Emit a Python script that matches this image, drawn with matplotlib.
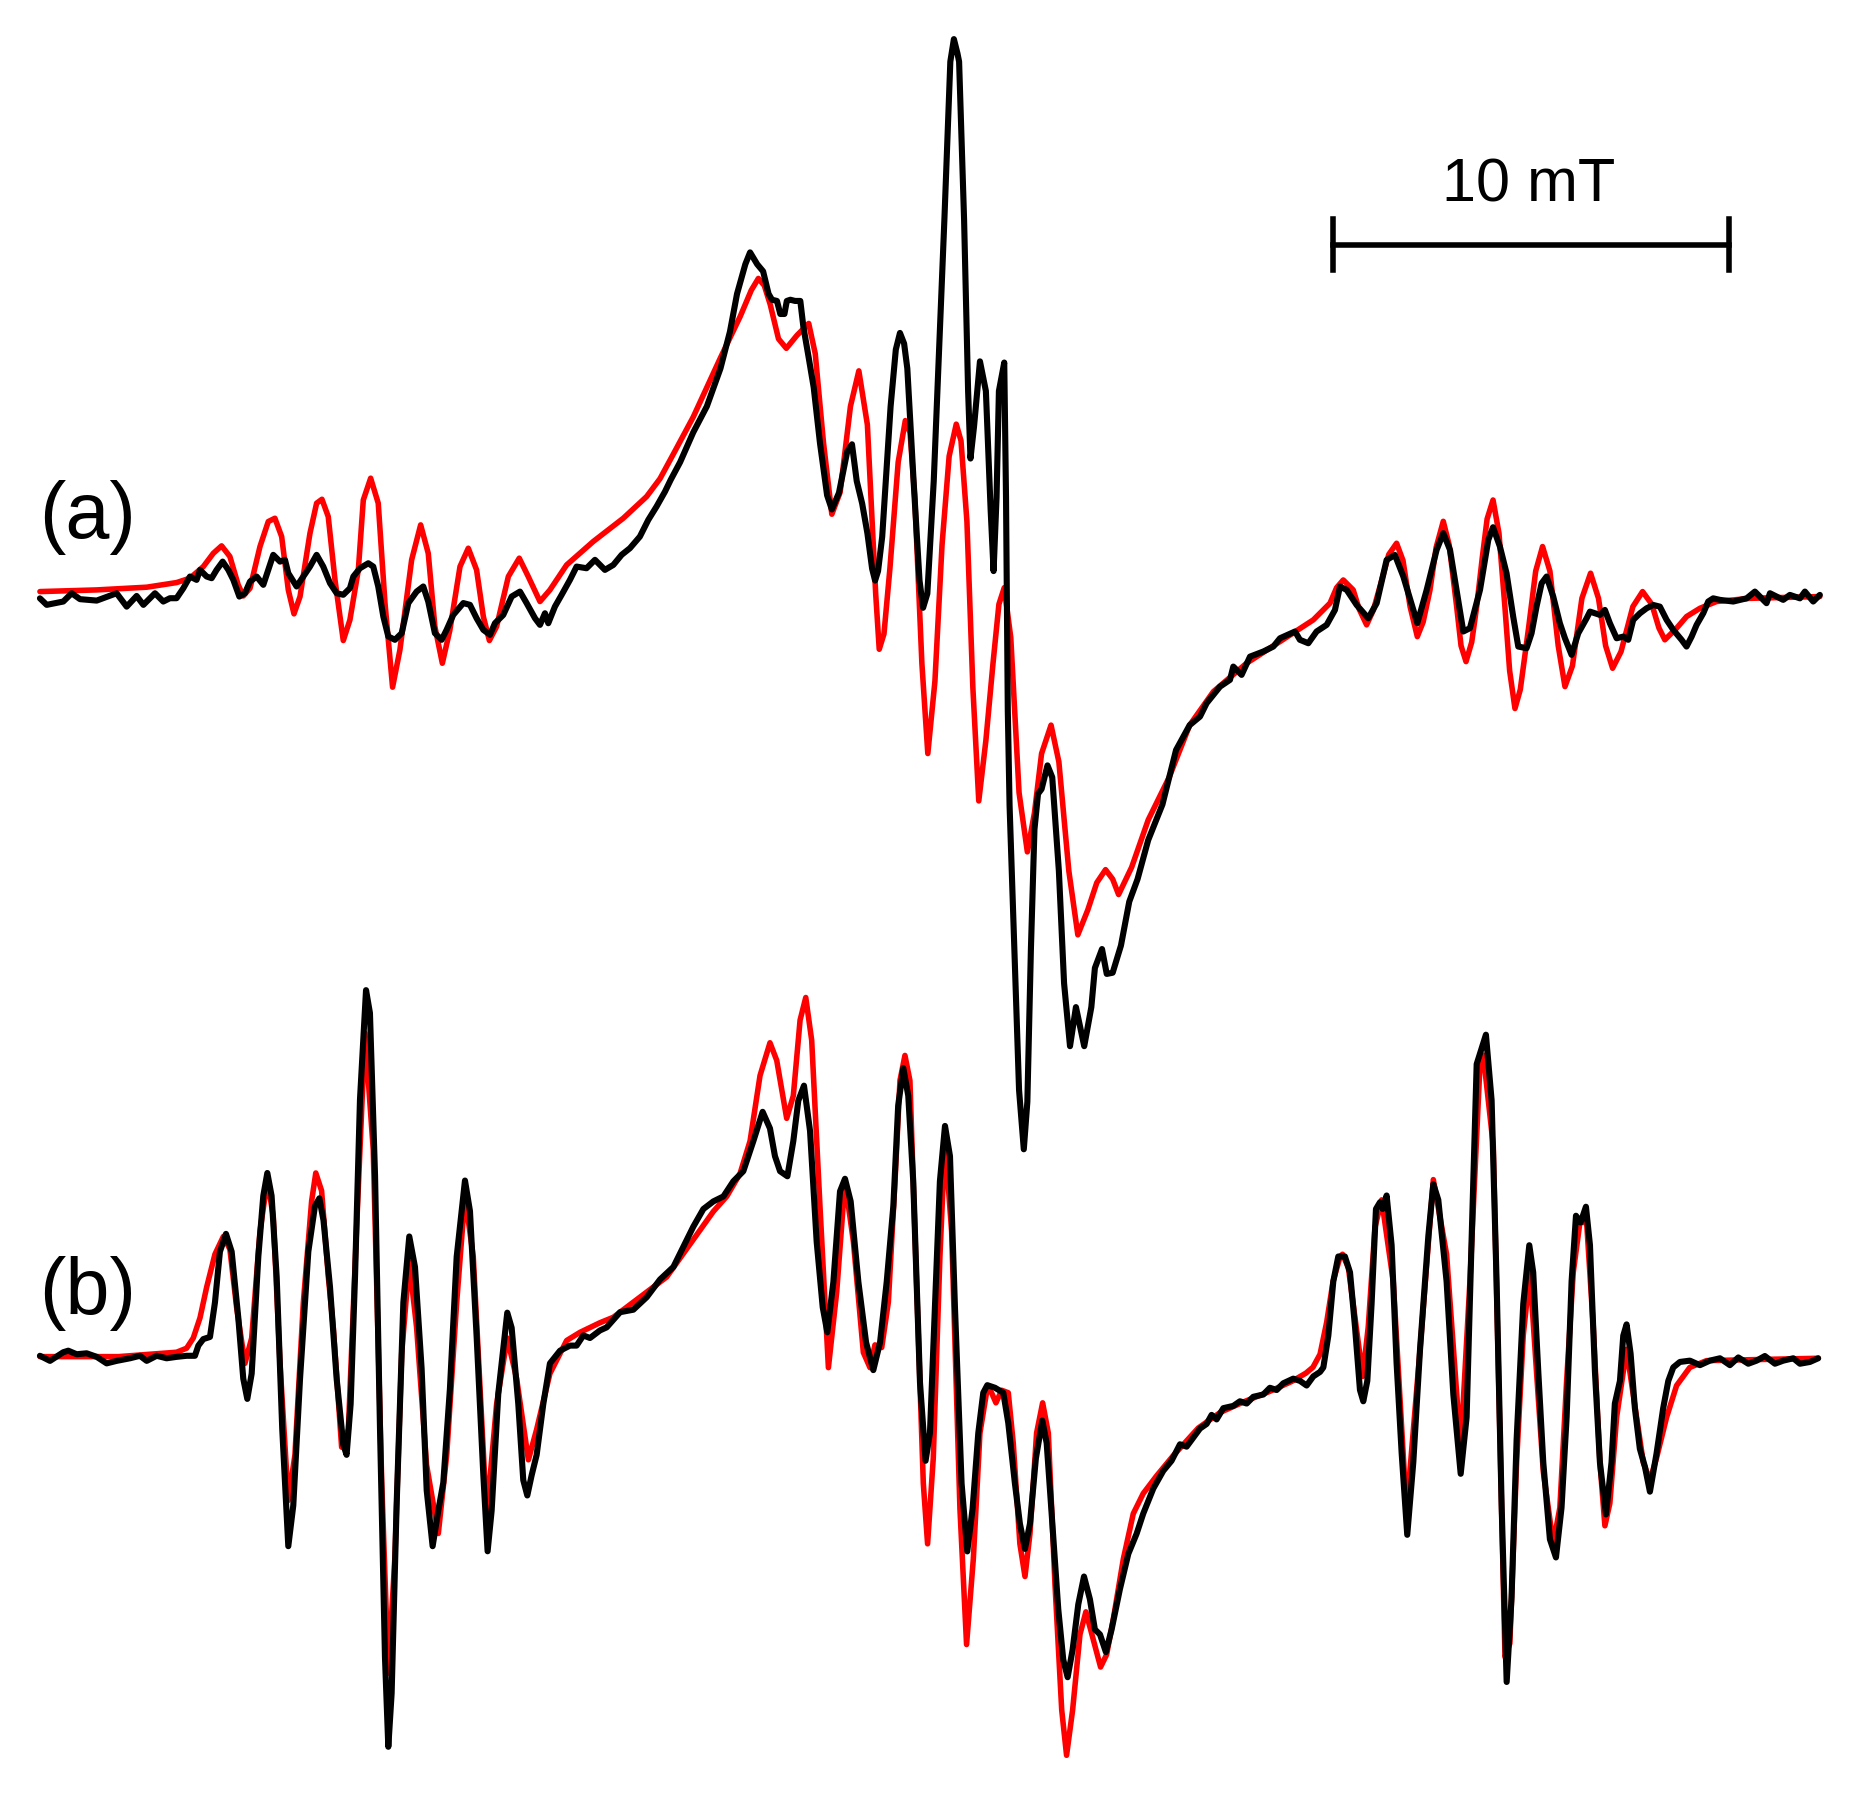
import numpy as np
import matplotlib.pyplot as plt

# === DATA (field axis and signal axis in picture units) ===
# (a) experiment, black
exp_a = np.array([
    (33.7, 505), (39.4, 510.5), (53.4, 507.7), (60.5, 500.7), (67.5, 505.7), (81.6, 506.9), (98.4, 500.7),
    (106.9, 512), (115.3, 503), (121, 510.5), (130.8, 500.7), (137.8, 507.7), (143.4, 504.9), (149, 504.9),
    (154.7, 496.5), (160.3, 486.6), (165.9, 489.4), (168.8, 481), (174.4, 486.6), (178.6, 488), (182.8, 481),
    (187.9, 474), (192.7, 481), (196.9, 489.4), (202, 503.5), (206.7, 500.7), (211, 490.8), (216.6, 486.6),
    (222.2, 493.6), (226.4, 481), (230.6, 468.3), (236.3, 474), (240.5, 472.5), (243.3, 483.8), (250.3, 495),
    (256, 486.6), (261.6, 478.2), (267.2, 468.3), (272.8, 478.2), (278.5, 492.2), (284.1, 500.7), (289.7, 502),
    (295.3, 496.5), (298.2, 486.6), (303.8, 479.6), (310.8, 475.4), (315, 478.2), (319.2, 495), (323.5, 520.4),
    (327.7, 537.2), (333.3, 540), (339, 534.4), (344.6, 509), (351.6, 499.3), (357.2, 495), (361.4, 507.7),
    (367, 534.4), (372.7, 540), (376.9, 531.6), (382.5, 519), (391, 509), (396.6, 510.5), (402.2, 521.8),
    (407.9, 531.6), (413.5, 535.8), (417.7, 526), (424.7, 519), (431.8, 503.5), (438.8, 499.3), (444.4, 509),
    (451.5, 521.8), (455.7, 527.4), (459.9, 517.6), (462.7, 526), (468.3, 512), (474, 502), (481, 489.4),
    (486.6, 478.2), (495, 479.6), (502.1, 472.5), (510.5, 481), (517.6, 476.8), (524.6, 468.3), (531.6, 462.7),
    (540, 452.9), (547.1, 438.8), (554.1, 427.5), (561.2, 414.9), (566, 405), (574, 390), (585, 365),
    (596.5, 343), (608, 311), (616, 280), (622, 248), (629, 223), (633, 213), (639, 223), (644, 229),
    (648.6, 248), (651.5, 253), (655.7, 254), (658.5, 265), (662, 265), (664, 254), (667, 253), (671, 254),
    (675.4, 254), (678, 276), (682.5, 302), (686.7, 327), (692, 374), (698, 418), (702, 430), (708, 416),
    (715, 381), (719, 375), (723, 406), (727.6, 425), (732, 450), (736, 480), (738.5, 490), (741, 482),
    (744.5, 453), (751.6, 343), (756, 295), (759.5, 281), (763, 290), (765.7, 311), (771, 406), (776, 490),
    (779, 513), (782.6, 501), (788, 406), (797, 185), (802, 52), (805, 33), (808, 45), (809.4, 52),
    (813.6, 185), (817, 330), (819, 387), (822, 360), (827, 305), (832, 330), (836, 430), (838.5, 482),
    (841, 420), (843, 330), (847.5, 306), (849, 420), (850.5, 600), (852, 680), (856, 800), (860, 920),
    (864, 970), (867, 930), (870, 801), (873, 700), (876, 670), (879, 666), (884, 646), (888, 656),
    (893.6, 735), (898, 830), (903, 883), (908, 850), (915, 883), (921, 850), (924, 817), (930, 801),
    (934, 822), (939, 821), (946, 798), (953, 761), (960, 742), (969, 709), (981, 679), (992.5, 633),
    (1004, 612), (1012.7, 604.8), (1018.3, 593.5), (1029.6, 579.5), (1038, 573.8), (1040.8, 562.6),
    (1047.8, 569.6), (1054.9, 554.2), (1066.1, 549.9), (1074.6, 545.7), (1080.2, 538.7), (1092.9, 533),
    (1097, 540), (1104.1, 542.9), (1111.1, 533), (1119.6, 527.4), (1126.6, 514.8), (1130.8, 495),
    (1136.5, 497.9), (1144.9, 510.6), (1154.7, 521.8), (1161.8, 509.1), (1170.2, 472.6), (1177.2, 468.4),
    (1184.3, 486.6), (1196.1, 526), (1204, 497.9), (1212.4, 464.1), (1218, 450), (1223.7, 464.1),
    (1234.9, 533), (1240.5, 530.2), (1249, 497.9), (1256, 455.7), (1260, 445), (1265.8, 461.3),
    (1271.4, 483.8), (1277, 520.4), (1281.3, 545.7), (1288.3, 547.1), (1292.5, 534.5), (1296.7, 512),
    (1301, 492.3), (1305.2, 486.6), (1310.8, 503.5), (1316.4, 526), (1320.7, 538.7), (1326.3, 552.7),
    (1331.9, 534.5), (1339, 521.8), (1341.8, 516.2), (1350.2, 519), (1354.4, 514.8), (1358.6, 526),
    (1364.3, 538.7), (1369.9, 537.3), (1374.1, 540), (1378.3, 523.2), (1384, 517.6), (1389.6, 513.4),
    (1395.2, 510.6), (1400.8, 512), (1406.5, 523.2), (1412.1, 531.6), (1419.1, 540), (1423.3, 545.7),
    (1427.6, 537.3), (1431.8, 527.4), (1437.4, 517.6), (1441.6, 507.7), (1445.8, 505), (1451.5, 506.3),
    (1462.7, 507.7), (1474, 505), (1481, 499.3), (1490.8, 509.1), (1493.7, 500.7), (1504.9, 506.3),
    (1510.5, 502.1), (1519, 505), (1523.2, 499.3), (1530.2, 507.7), (1535.8, 502.1),
])

# (a) simulation, red
sim_a = np.array([
    (33.7, 499.3), (81.6, 497.9), (123.8, 495.6), (149, 491.7), (160.3, 488), (171.6, 478.2), (180, 467),
    (187, 460.7), (194, 469.7), (201, 493.6), (205.3, 503), (211, 496.5), (219.4, 461.3), (226.4, 440.2),
    (232, 437.4), (237.7, 452.9), (243.3, 497.9), (248.1, 518.1), (253.2, 503.5), (261.6, 450),
    (267.2, 424.7), (271.7, 421.4), (277, 436), (282.7, 489.4), (289.7, 540.6), (295.3, 523.2),
    (302.4, 481), (306.6, 422), (312.8, 403.6), (319.2, 424.7), (324.9, 509), (331.3, 580), (337.5, 548.5),
    (347.4, 472.5), (355, 443), (361.4, 467), (367, 528.8), (373.3, 559.8), (379.7, 531.6), (388.2, 478.2),
    (395.2, 462.7), (402.2, 481), (407.9, 520.4), (413, 540.6), (419.1, 528.8), (429, 486.6), (438.2, 471.1),
    (445.8, 486.6), (455.7, 507.7), (464.1, 497.9), (478.2, 476.8), (500.7, 457), (526, 437.4),
    (545.7, 419.1), (557, 404), (570, 380), (585, 352), (608, 302), (624.7, 267), (634, 245), (640, 235),
    (645, 241), (650, 257), (657, 286), (663.6, 294), (672.6, 283), (682.5, 273), (688, 298.5), (695, 374),
    (702, 434), (709, 415.5), (717.7, 343), (724.8, 313), (732, 358.5), (739, 501), (742, 548), (746, 535),
    (751, 480), (758, 390), (764, 355), (768, 365), (772, 420), (778, 560), (783, 636), (789, 575),
    (795, 460), (801, 385), (807, 358), (811, 372), (816, 440), (821, 580), (826, 676), (832, 625),
    (838, 560), (843, 510), (847.5, 496), (853, 538), (860, 669), (867, 719), (873, 686), (879, 636),
    (887, 612), (893.6, 643), (902, 735), (909.6, 789), (918, 768), (925.6, 745), (933, 734), (939, 742),
    (944, 755), (955, 732), (969, 692), (986.7, 656), (1004, 612), (1024, 583.7), (1052, 559.8),
    (1080.2, 541.5), (1108.3, 523.2), (1122.4, 509.1), (1128, 496), (1133.6, 489.5), (1142, 497.9),
    (1147, 514), (1153.3, 527.4), (1159, 515), (1164.6, 495), (1172, 468), (1178.6, 458.5), (1184, 473),
    (1190, 512), (1196.1, 537.3), (1201, 525), (1206.8, 497.9), (1212, 462), (1218, 440), (1223, 460),
    (1229.3, 512), (1233, 545), (1237.2, 558.4), (1242, 542), (1246.2, 512), (1251, 470), (1255, 438),
    (1260, 422), (1265, 450), (1270, 512), (1274, 566), (1278.5, 598), (1283, 582), (1290, 530), (1296, 482),
    (1301.8, 461.3), (1308, 482), (1315, 545), (1320.7, 579.5), (1327, 562), (1335, 505), (1342.3, 483.8),
    (1349, 505), (1355, 545), (1360.9, 564), (1368, 550), (1378, 512), (1386.2, 499.3), (1394, 510),
    (1400, 530), (1405, 540), (1414.9, 530.2), (1423.3, 520.4), (1434.6, 513.4), (1448.6, 507.7),
    (1476.8, 505), (1535.8, 503.5),
])

# (b) experiment, black
exp_b = np.array([
    (33.7, 1144.3), (42.2, 1148.6), (53.4, 1141.3), (57.6, 1140), (64.7, 1143), (73.1, 1142.2),
    (81.6, 1145.2), (90, 1150.7), (98.4, 1148.6), (109.7, 1146.4), (118.1, 1144.3), (123.8, 1148.6),
    (132.2, 1144.3), (140.6, 1146.4), (149, 1145.2), (157.5, 1144.3), (164.5, 1144.3), (167.4, 1135.7),
    (171.6, 1130.2), (177.2, 1128.4), (181.4, 1099.3), (185.6, 1056.4), (190.7, 1041.4), (195.5, 1056.4),
    (201.1, 1112.2), (205.3, 1163.6), (208.7, 1180.7), (212.4, 1159.3), (218, 1060.7), (222.2, 1009.3),
    (225.6, 990), (229.2, 1009.3), (233.5, 1077.9), (238.2, 1206.4), (243.3, 1305), (247.5, 1270.7),
    (253.2, 1163.6), (260.2, 1056.4), (265.8, 1017.9), (269.5, 1011.4), (273, 1030), (278.5, 1086.4),
    (284.1, 1163.6), (289.7, 1219.3), (292.5, 1227.9), (295.9, 1185), (299.6, 1077.9), (303.8, 927.9),
    (308.9, 835.7), (312.2, 855), (316.5, 992.1), (320.7, 1206.4), (324.9, 1399.3), (327.7, 1474.3),
    (330.5, 1429.3), (334.7, 1270.7), (340.4, 1099.3), (345.4, 1043.6), (350.2, 1069.3), (355.8, 1155),
    (360.1, 1257.9), (365.1, 1305), (369.9, 1275), (374.1, 1251.4), (379.7, 1172.1), (385.4, 1060.7),
    (392.4, 996.4), (396.6, 1022.1), (402.3, 1129.3), (407.9, 1245), (411.5, 1309.3), (414.9, 1275),
    (420.5, 1176.4), (428.1, 1107.9), (431.8, 1120.7), (437.4, 1185), (441.6, 1249.3), (445, 1262.2),
    (448.7, 1245), (452.9, 1227.9), (458.5, 1185), (464.1, 1150.7), (472.6, 1140), (481, 1135.7),
    (486.6, 1135.7), (492.3, 1127.1), (497.9, 1129.3), (506.3, 1122.9), (512, 1120.3), (523.3, 1107.5),
    (534.5, 1105.4), (545.8, 1094.8), (557, 1079.9), (568.3, 1069.3), (576.7, 1052.3), (585.1, 1035.3),
    (593.6, 1020.4), (602, 1014), (610.5, 1009.8), (618.9, 997), (627.3, 988.5), (635.8, 963),
    (643.6, 938.4), (649.8, 952.4), (654, 975.8), (658.3, 988.5), (664.5, 992.8), (669.5, 963),
    (673.7, 929), (678.5, 916.3), (683.6, 954.5), (689.2, 1048), (694.3, 1103.3), (698.2, 1124.5),
    (703.3, 1082), (708.9, 1005.5), (713.1, 994.9), (717.9, 1014), (724.4, 1082), (730.9, 1133),
    (737, 1156.4), (742.7, 1133), (748.3, 1082), (753.9, 1018), (758, 933), (762.3, 901.4), (766.5, 924.8),
    (770.7, 997), (776.4, 1167), (781.1, 1232.9), (784.8, 1209.5), (789, 1103.3), (793.2, 997),
    (797.5, 950.3), (801.7, 975.8), (805.9, 1103.3), (811.5, 1252), (816.3, 1309.4), (820.8, 1273.3),
    (825.6, 1209.5), (829.8, 1175.5), (833.2, 1169.1), (839.7, 1171.3), (846.7, 1175.5), (850.9, 1201),
    (856.5, 1252), (860.7, 1286), (865, 1307.3), (869.2, 1286), (874.2, 1230.8), (879.6, 1198.9),
    (883.3, 1218), (887.5, 1277.5), (893.1, 1358.3), (897.3, 1400.8), (901, 1415.6), (905.2, 1392.3),
    (910, 1354), (914.8, 1330.6), (919.8, 1349.8), (924, 1375.3), (928.3, 1379.5), (933.3, 1394.4),
    (938.1, 1375.3), (945.1, 1341.3), (952.2, 1311.5), (959.2, 1294.5), (964.8, 1277.5), (973.3, 1256.3),
    (981.7, 1241.4), (988.7, 1232.9), (995.8, 1219), (1001.4, 1221), (1007.1, 1213.3), (1012.7, 1205.7),
    (1018.3, 1201.8), (1022.5, 1194.2), (1026.7, 1198), (1032.4, 1188.5), (1040.8, 1186.6),
    (1046.4, 1182.7), (1052.1, 1184.6), (1057.7, 1178.9), (1066.1, 1177), (1071.7, 1171.3),
    (1077.4, 1173.2), (1083, 1167.5), (1091.4, 1163.6), (1097.1, 1165.5), (1102.7, 1169.4),
    (1108.3, 1161.7), (1114, 1157.9), (1116.8, 1154.1), (1121, 1127.3), (1125.2, 1081.5), (1129.4, 1060.5),
    (1135, 1060.5), (1139.3, 1073.9), (1143.5, 1119.7), (1147.7, 1173.2), (1150.5, 1182.7),
    (1153.9, 1165.5), (1157.5, 1100.6), (1161.2, 1020.4), (1164.6, 1014.7), (1166.8, 1020.4),
    (1170.2, 1009), (1174.4, 1050.9), (1178.6, 1150.3), (1182.9, 1226.7), (1187.6, 1295.4),
    (1192.7, 1234.3), (1198.4, 1138.8), (1205.4, 1043.3), (1209.6, 999.4), (1213.8, 1012.7),
    (1220.8, 1081.5), (1226.5, 1177), (1232.7, 1243.9), (1237.7, 1196.1), (1242, 1043.3), (1246.2, 898.1),
    (1250.4, 884.8), (1254, 873.3), (1258.8, 928.7), (1263, 1081.5), (1267.3, 1272.5), (1271.5, 1419.6),
    (1275.6, 1349), (1279.9, 1215), (1285.5, 1100.6), (1290.6, 1051), (1293.9, 1073.9), (1298.2, 1157.9),
    (1302.4, 1234.3), (1308, 1299.2), (1313.1, 1314.5), (1317.8, 1272.5), (1322.1, 1196.1),
    (1326.3, 1081.5), (1330, 1026.1), (1333.9, 1031.8), (1338.4, 1018.5), (1341.8, 1051), (1346, 1157.9),
    (1350.2, 1234.3), (1355.3, 1278.2), (1360, 1234.3), (1362.8, 1184.6), (1367.1, 1165.5),
    (1369.9, 1127.3), (1372.7, 1117.8), (1376.1, 1142.6), (1379.7, 1188.5), (1383.9, 1222.8),
    (1388.2, 1238), (1392.4, 1259), (1398, 1226.7), (1403.6, 1188.5), (1407.9, 1165.5), (1412.1, 1154.1),
    (1417.7, 1149.5), (1426.1, 1148.4), (1434.6, 1152.2), (1443, 1148.4), (1451.5, 1146.4),
    (1459.9, 1152.2), (1467, 1145.7), (1475.4, 1151), (1482.4, 1148.4), (1489.4, 1144.5), (1497.9, 1151),
    (1504.9, 1148.4), (1513.4, 1146.4), (1519, 1151), (1527.4, 1149.5), (1534.4, 1146.4),
])

# (b) simulation, red
sim_b = np.array([
    (33.7, 1145), (100, 1145), (149, 1141.3), (157.5, 1137.9), (163.1, 1129.3), (168.8, 1112.2),
    (174.4, 1086.4), (181.4, 1058.6), (188.5, 1043.6), (194, 1054.3), (199.7, 1103.6), (206.7, 1150.7),
    (212.4, 1129.3), (219.4, 1039.3), (225.6, 996.4), (230.6, 1026.4), (236.3, 1150.7), (243.3, 1266.4),
    (248.9, 1227.9), (256, 1099.3), (263, 1013.6), (266.5, 990), (271.4, 1005), (277.1, 1077.9),
    (281.3, 1120.7), (288.3, 1221.4), (294, 1206.4), (301, 1035), (308, 872), (315, 970.7), (322.1, 1249.3),
    (327.7, 1412.1), (333.3, 1313.6), (339, 1142.1), (345.4, 1065), (351.6, 1120.7), (360, 1236.4),
    (369.9, 1294.3), (377, 1227.9), (385.4, 1099.3), (392.4, 1009.3), (399.4, 1060.7), (410.7, 1279.3),
    (419.1, 1185), (428.1, 1129.3), (436, 1163.6), (445.9, 1232.1), (452.9, 1206.4), (464.1, 1159.3),
    (478.2, 1131.4), (489.5, 1124.5), (506.3, 1116.4), (517.6, 1111.8), (545.8, 1090.5), (562.6, 1077.8),
    (582.3, 1050.1), (602, 1022.5), (613.3, 1009.8), (624.5, 990.6), (633, 963), (641.4, 907.8),
    (649.8, 880.1), (655.5, 895), (663.9, 943.9), (669.5, 924.8), (675.2, 861), (680, 841.9), (685, 878),
    (692, 1018.3), (699.1, 1154.3), (706.1, 1090.5), (713.1, 997), (720.2, 1048), (728.6, 1141.5),
    (734.2, 1154.3), (738.4, 1135.1), (744.1, 1137.3), (749.7, 1099), (755.3, 997), (759.5, 912),
    (763.7, 890.8), (767.9, 912), (773.5, 1082), (779.2, 1252), (782.8, 1303), (787.6, 1230.8),
    (793.2, 1060.8), (797.5, 963), (803.1, 1039.5), (810.1, 1273.3), (815.7, 1388), (821.4, 1315.8),
    (827, 1209.5), (833.2, 1171.3), (836.8, 1175.5), (840.5, 1184), (845.3, 1173.4), (850.9, 1175.5),
    (855.1, 1218), (860.7, 1303), (865, 1330.6), (869.2, 1294.5), (874.8, 1209.5), (879.9, 1184),
    (884.7, 1209.5), (890.3, 1337), (896, 1443.3), (900.1, 1481.5), (905.2, 1443.3), (911.4, 1379.5),
    (916.4, 1360.4), (922.6, 1383.8), (928.8, 1407), (933.9, 1396.5), (939.5, 1366.8), (948, 1315.8),
    (956.4, 1277.5), (964.8, 1260.5), (976.1, 1245.6), (990.1, 1228.6), (1011.2, 1205.3), (1030, 1192),
    (1050, 1183), (1070, 1175), (1090, 1166), (1102, 1159), (1108, 1154), (1114, 1143), (1119.6, 1116),
    (1125, 1081.5), (1131, 1060.5), (1133, 1058.6), (1137.9, 1070), (1143.5, 1112), (1150, 1161.7),
    (1154.7, 1119.7), (1160.4, 1035.7), (1166, 1012.7), (1175.8, 1081.5), (1187, 1276.3), (1198.4, 1138.8),
    (1209.6, 995.6), (1220.8, 1058.6), (1232.7, 1222.8), (1240.5, 1081.5), (1249, 898.1), (1251.8, 890.5),
    (1260.2, 967), (1270.1, 1398.6), (1274.2, 1387), (1279.9, 1234), (1285.5, 1127), (1291.1, 1073.9),
    (1296.7, 1157.9), (1302.4, 1241.9), (1310.8, 1303), (1316.4, 1272.5), (1322.1, 1165.5),
    (1327.7, 1073.9), (1333.3, 1031.8), (1339, 1031.8), (1344.6, 1119.7), (1350.2, 1234.3),
    (1354.4, 1287.8), (1358.6, 1268.7), (1364.3, 1196.1), (1372.7, 1138.8), (1378.3, 1177),
    (1386.8, 1234.3), (1392.4, 1249.6), (1398, 1230.5), (1406.5, 1196.1), (1414.9, 1169.4),
    (1426.1, 1154.1), (1440.2, 1148.4), (1534.4, 1146.4),
])

panel_labels = ["(a)", "(b)"]
label_pos = [(33, 437), (33, 1092)]
scale_label = "10 mT"
scale_ends = [1125, 1459]   # 10 mT in field units
scale_y = 207

# === PLOT ===
fig = plt.figure(figsize=(18.58, 17.95), dpi=100)
ax = fig.add_axes([0, 0, 1, 1])
ax.set_xlim(0, 1568)
ax.set_ylim(1515, 0)
ax.axis('off')

for sim, exp in [(sim_a, exp_a), (sim_b, exp_b)]:
    ax.plot(sim[:, 0], sim[:, 1], color='#ff0000', lw=4.0, solid_joinstyle='round', solid_capstyle='round')
    ax.plot(exp[:, 0], exp[:, 1], color='black', lw=4.4, solid_joinstyle='round', solid_capstyle='round')

for txt, (x, y) in zip(panel_labels, label_pos):
    ax.text(x, y, txt, fontsize=57, family='Liberation Sans', ha='left', va='center')

# scale bar
ax.plot(scale_ends, [scale_y, scale_y], color='black', lw=4.0)
for xe in scale_ends:
    ax.plot([xe, xe], [scale_y - 22, scale_y + 21], color='black', lw=4.0)
ax.text(np.mean(scale_ends) - 2, 157, scale_label, fontsize=44, family='Liberation Sans',
        ha='center', va='center')

fig.savefig("out.png", dpi=100)
